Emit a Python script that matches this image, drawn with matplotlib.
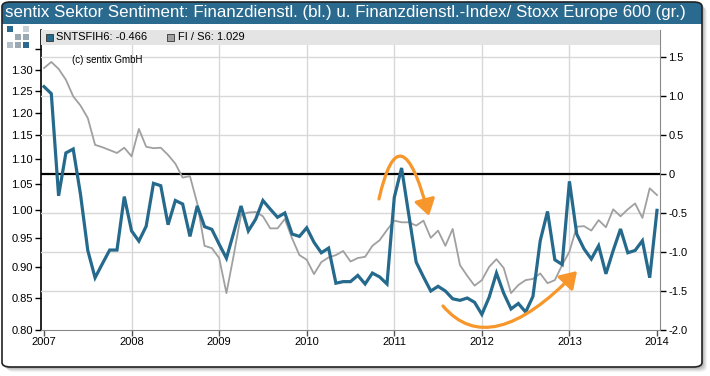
import numpy as np
import matplotlib
matplotlib.use("Agg")
import matplotlib.pyplot as plt
from matplotlib.patches import Rectangle, FancyBboxPatch, FancyArrowPatch
from matplotlib.path import Path
from matplotlib.ticker import FixedLocator, FixedFormatter, NullLocator, FuncFormatter

plt.rcParams['font.family'] = ['Liberation Sans', 'DejaVu Sans']

# === 数据: 月度, 2007-01 .. 2014-01 ===
start_year = 2007
# sentix 金融服务业情绪 (右轴)
sntsfih6 = [1.12, 1.03, -0.28, 0.27, 0.32, -0.26, -0.98, -1.33, -1.15, -0.975,
            -0.975, -0.29, -0.73, -0.86, -0.67, -0.12, -0.15, -0.65, -0.34, -0.385,
            -0.80, -0.41, -0.675, -0.71, -0.90, -1.08, -0.75, -0.41, -0.73, -0.58,
            -0.34, -0.45, -0.555, -0.50, -0.77, -0.80, -0.69, -0.876, -1.01, -0.95,
            -1.40, -1.38, -1.38, -1.30, -1.41, -1.27, -1.32, -1.41, -0.30, 0.077,
            -0.53, -1.13, -1.32, -1.50, -1.44, -1.50, -1.60, -1.62, -1.59, -1.645,
            -1.80, -1.58, -1.27, -1.53, -1.73, -1.66, -1.77, -1.57, -0.855, -0.48,
            -1.10, -1.16, -0.094, -0.77, -0.96, -1.09, -0.92, -1.28, -0.98, -0.705,
            -1.01, -0.98, -0.855, -1.33, -0.466]
# Finanzdienstl.-Index / Stoxx Europe 600 (左轴, 对数)
fi_s6 = [1.304, 1.319, 1.302, 1.276, 1.237, 1.216, 1.188, 1.130, 1.125, 1.119,
         1.113, 1.124, 1.106, 1.164, 1.126, 1.123, 1.124, 1.109, 1.091, 1.063,
         1.066, 1.013, 0.936, 0.932, 0.915, 0.857, 0.920, 0.992, 0.996, 0.997,
         0.989, 0.967, 0.967, 0.984, 0.949, 0.920, 0.912, 0.888, 0.908, 0.916,
         0.920, 0.927, 0.909, 0.915, 0.917, 0.936, 0.946, 0.964, 0.981, 0.978,
         0.978, 0.972, 0.981, 0.950, 0.963, 0.936, 0.966, 0.903, 0.885, 0.869,
         0.878, 0.900, 0.913, 0.898, 0.857, 0.870, 0.878, 0.880, 0.889, 0.873,
         0.878, 0.903, 0.926, 0.970, 0.971, 0.963, 0.982, 0.969, 1.002, 0.989,
         1.002, 1.013, 0.986, 1.042, 1.029]

years = list(range(2007, 2015))
left_ticks = [0.80, 0.85, 0.90, 0.95, 1.00, 1.05, 1.10, 1.15, 1.20, 1.25, 1.30, 1.35]
left_labels = ["0.80", "0.85", "0.90", "0.95", "1.00", "1.05", "1.10", "1.15",
               "1.20", "1.25", "1.30", ""]
right_ticks = [-2.0, -1.5, -1.0, -0.5, 0.0, 0.5, 1.0, 1.5]

title = "sentix Sektor Sentiment: Finanzdienstl. (bl.) u. Finanzdienstl.-Index/ Stoxx Europe 600 (gr.)"
label_blue = "SNTSFIH6: -0.466"
label_grey = "FI / S6: 1.029"

BLUE = "#256a8c"
GREY = "#a0a0a0"
ORANGE = "#f7962a"
HEAD = "#2b6a8f"

months = np.arange(len(sntsfih6))
x = start_year + months / 12.0

W, H = 710, 376
fig = plt.figure(figsize=(W / 100, H / 100), dpi=100)

def fx(px):
    return px / W

def fy(py):
    return 1 - py / H

# === 外框 (阴影 + 圆角) ===
for off, a in [(5, 0.10), (4, 0.15), (3, 0.2), (2, 0.25)]:
    fig.add_artist(FancyBboxPatch((fx(2 + off), fy(367 + off)), fx(700), 365 / H,
                                  boxstyle="round,pad=0,rounding_size=0.012",
                                  transform=fig.transFigure, fc="#888888", ec="none",
                                  alpha=a, zorder=0))
fig.add_artist(FancyBboxPatch((fx(2), fy(367)), fx(700), 365 / H,
                              boxstyle="round,pad=0,rounding_size=0.012",
                              transform=fig.transFigure, fc="white", ec="none", zorder=0.5))
fig.add_artist(FancyBboxPatch((fx(2), fy(24)), fx(700), 22 / H,
                              boxstyle="round,pad=0,rounding_size=0.012",
                              transform=fig.transFigure, fc=HEAD, ec="none", zorder=0.6))
fig.add_artist(Rectangle((fx(2), fy(24)), fx(700), 10 / H, transform=fig.transFigure,
                         fc=HEAD, ec="none", zorder=0.7))
fig.add_artist(FancyBboxPatch((fx(2), fy(367)), fx(700), 365 / H,
                              boxstyle="round,pad=0,rounding_size=0.012",
                              transform=fig.transFigure, fc="none", ec="#222222",
                              lw=1.2, zorder=10))
fig.text(fx(5), fy(13), title, color="white", fontsize=12.2, va="center", ha="left",
         zorder=11)

# logo
logo = [(0, 0, HEAD), (2, 0, "#c8d0d6"), (1, 1, "#9aa8b2"), (2, 1, "#9aa8b2"),
        (0, 2, "#b4bec6"), (1, 2, "#9aa8b2"), (2, 2, HEAD)]
for c, r, col in logo:
    fig.add_artist(Rectangle((fx(7 + 8 * c), fy(32 + 8 * r)), fx(6), 6 / H,
                             transform=fig.transFigure, fc=col, ec="none", zorder=2))

# === 坐标轴 ===
ax = fig.add_axes([fx(41), 46 / H, fx(619), 300 / H])
ax.set_zorder(1)
ax.patch.set_visible(False)
ax.set_yscale("log")
ax.set_ylim(0.80, 1.40)
ax.set_xlim(2007 - 3 / 87.57, 2014 + 3 / 87.57)
ax.yaxis.set_major_locator(FixedLocator(left_ticks))
ax.yaxis.set_major_formatter(FixedFormatter(left_labels))
ax.yaxis.set_minor_locator(NullLocator())
ax.set_xticks(years)
ax.set_xticklabels([str(y) for y in years])
ax.tick_params(axis="y", length=4, width=1, colors="black", labelsize=8, pad=2)
ax.tick_params(axis="x", length=4, width=1, color="#555555", labelsize=8, pad=1)
for s in ["top", "right"]:
    ax.spines[s].set_visible(False)
ax.spines["left"].set_color("black")
ax.spines["left"].set_linewidth(1.2)
ax.spines["bottom"].set_color("#888888")

ax2 = ax.twinx()
ax2.set_zorder(1.5)
ax2.set_ylim(-2.0, 1.846)
ax2.set_xlim(ax.get_xlim())
ax2.set_yticks(right_ticks)
ax2.yaxis.set_major_formatter(FuncFormatter(lambda v, p: "0" if v == 0 else f"{v:.1f}"))
ax2.tick_params(axis="y", length=4, width=1, colors="black", labelsize=8, pad=2)
for s in ["top", "left", "bottom"]:
    ax2.spines[s].set_visible(False)
ax2.spines["right"].set_color("#888888")

# 网格
for y in years[1:-1]:
    ax2.axvline(y, color="#d8d8d8", lw=1, zorder=1)
for v in right_ticks[1:]:
    if v != 0:
        ax2.axhline(v, color="#d8d8d8", lw=1, zorder=1)
ax2.axhline(0, color="black", lw=1.6, zorder=2)

# 数据线
ax2.plot(x, fi_s6, color=GREY, lw=1.3, transform=ax.transData, zorder=3)
ax2.plot(x, sntsfih6, color=BLUE, lw=2.3, zorder=4, solid_joinstyle="miter")

# 图例条
ax2.add_patch(Rectangle((0, 1 - 15 / 300), 1, 15 / 300, transform=ax2.transAxes,
                        fc="#e4e4e4", ec="none", zorder=5, clip_on=False))
fig.add_artist(Rectangle((fx(46), fy(41)), fx(7), 7 / H, transform=fig.transFigure,
                         fc=BLUE, ec="#333333", lw=0.6, zorder=6))
fig.text(fx(56), fy(37.5), label_blue, fontsize=8, va="center", ha="left", zorder=6)
fig.add_artist(Rectangle((fx(167), fy(41)), fx(7), 7 / H, transform=fig.transFigure,
                         fc=GREY, ec="#333333", lw=0.6, zorder=6))
fig.text(fx(178), fy(37.5), label_grey, fontsize=8, va="center", ha="left", zorder=6)
fig.text(fx(72), fy(60), "(c) sentix GmbH", fontsize=7, va="center", ha="left", zorder=6)

# 橙色箭头
arrow1 = Path([(2010.825, -0.32), (2011.066, 0.865), (2011.396, -0.538)],
              [Path.MOVETO, Path.CURVE3, Path.CURVE3])
arrow2 = Path([(2011.556, -1.692), (2012.092, -2.404), (2013.087, -1.244)],
              [Path.MOVETO, Path.CURVE3, Path.CURVE3])
for p in [arrow1, arrow2]:
    ax2.add_patch(FancyArrowPatch(path=p, arrowstyle="-|>,head_length=0.7,head_width=0.45",
                                  mutation_scale=14, color=ORANGE, lw=2.3, zorder=7,
                                  clip_on=False))

fig.savefig("out.png", dpi=100)
